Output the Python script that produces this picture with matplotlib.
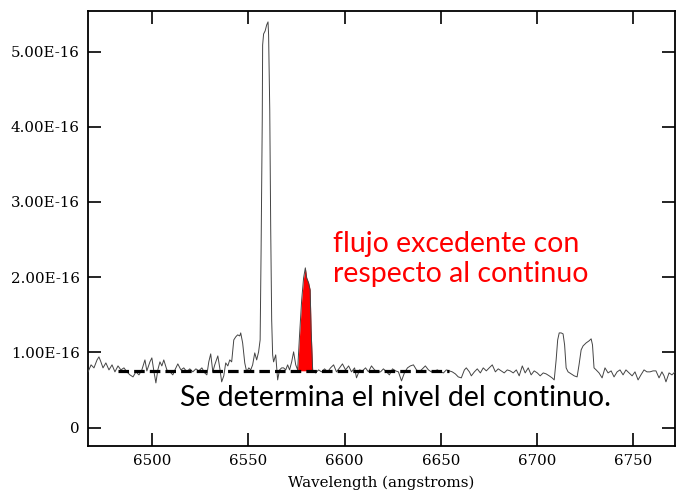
import numpy as np
import matplotlib
matplotlib.use("Agg")
import matplotlib.pyplot as plt
from matplotlib.ticker import FuncFormatter

# spectrum (flux in units of 1e-16)
wave = [6466.6, 6468.2, 6469.7, 6471.3, 6472.3, 6473.3, 6474.4, 6475.9, 6477.5, 6479.1,
        6480.6, 6482.2, 6483.7, 6485.3, 6486.8, 6488.4, 6490.0, 6491.5, 6493.1, 6494.6,
        6496.2, 6497.2, 6498.8, 6499.8, 6500.9, 6501.9, 6502.9, 6504.0, 6505.0, 6506.0,
        6507.6, 6509.2, 6510.7, 6511.8, 6513.3, 6514.9, 6516.4, 6518.0, 6519.5, 6521.1,
        6522.7, 6524.2, 6525.8, 6527.3, 6528.4, 6529.4, 6530.4, 6531.5, 6532.5, 6534.1,
        6535.1, 6536.1, 6537.2, 6538.2, 6539.3, 6540.3, 6541.3, 6542.4, 6543.4, 6544.4,
        6545.5, 6546.0, 6547.0, 6548.1, 6549.1, 6550.2, 6551.2, 6552.2, 6553.3, 6554.3,
        6555.3, 6556.1, 6556.6, 6557.2, 6557.4, 6557.9, 6558.7, 6559.5, 6560.2, 6560.5,
        6561.1, 6561.6, 6562.1, 6562.6, 6563.1, 6564.2, 6565.2, 6566.2, 6567.3, 6568.3,
        6569.4, 6570.4, 6571.4, 6572.5, 6573.5, 6574.6, 6575.6, 6576.6, 6577.7, 6578.7,
        6579.6, 6580.3, 6581.3, 6582.1, 6582.6, 6583.4, 6584.9, 6586.5, 6588.0, 6589.6,
        6591.2, 6592.7, 6594.3, 6595.8, 6597.4, 6598.9, 6600.5, 6602.1, 6603.6, 6605.2,
        6606.2, 6607.8, 6609.3, 6610.9, 6612.4, 6614.0, 6615.6, 6617.1, 6618.7, 6620.2,
        6621.8, 6623.3, 6624.9, 6626.5, 6628.0, 6629.6, 6631.1, 6632.7, 6634.2, 6635.8,
        6637.4, 6638.9, 6640.5, 6642.0, 6643.6, 6645.1, 6646.7, 6648.3, 6649.8, 6651.4,
        6652.9, 6654.5, 6656.0, 6657.6, 6659.1, 6660.7, 6662.3, 6663.3, 6664.9, 6665.9,
        6667.5, 6669.0, 6670.6, 6672.1, 6673.7, 6675.2, 6676.8, 6678.4, 6679.9, 6681.5,
        6683.0, 6684.6, 6686.1, 6687.7, 6689.3, 6690.8, 6692.4, 6693.9, 6695.5, 6697.0,
        6698.6, 6700.2, 6701.7, 6703.3, 6704.8, 6706.4, 6707.9, 6709.0, 6710.0, 6710.8,
        6711.6, 6712.6, 6713.6, 6714.4, 6715.2, 6716.2, 6717.8, 6719.4, 6720.9, 6721.9,
        6723.0, 6724.0, 6725.6, 6727.1, 6728.2, 6728.9, 6729.7, 6730.8, 6732.3, 6733.9,
        6735.4, 6737.0, 6738.6, 6740.1, 6741.7, 6743.2, 6744.8, 6746.3, 6747.9, 6749.5,
        6751.0, 6752.6, 6754.1, 6755.7, 6757.2, 6758.8, 6760.4, 6761.9, 6763.5, 6765.0,
        6766.1, 6767.1, 6768.7, 6770.2, 6771.8]

flux = [0.741, 0.834, 0.794, 0.900, 0.940, 0.874, 0.794, 0.860, 0.767, 0.834,
        0.741, 0.820, 0.767, 0.794, 0.741, 0.701, 0.674, 0.741, 0.701, 0.767,
        0.900, 0.754, 0.874, 0.927, 0.741, 0.594, 0.767, 0.874, 0.820, 0.900,
        0.767, 0.741, 0.701, 0.767, 0.847, 0.767, 0.794, 0.741, 0.781, 0.741,
        0.781, 0.754, 0.794, 0.727, 0.701, 0.874, 0.980, 0.741, 0.834, 0.953,
        0.794, 0.608, 0.688, 0.860, 0.820, 0.900, 0.874, 1.166, 1.206, 1.233,
        1.219, 1.259, 1.126, 0.860, 0.741, 0.794, 0.767, 0.834, 0.993, 0.900,
        1.007, 1.166, 2.363, 4.092, 5.089, 5.235, 5.275, 5.355, 5.395, 5.222,
        4.225, 2.629, 1.432, 0.967, 0.874, 0.967, 0.634, 0.767, 0.794, 0.794,
        0.767, 0.834, 0.767, 0.874, 1.007, 0.834, 0.767, 1.233, 1.698, 1.991,
        2.124, 1.991, 1.924, 1.831, 1.299, 0.767, 0.727, 0.767, 0.741, 0.781,
        0.741, 0.794, 0.834, 0.741, 0.794, 0.847, 0.767, 0.820, 0.741, 0.794,
        0.661, 0.767, 0.754, 0.794, 0.741, 0.820, 0.767, 0.741, 0.741, 0.781,
        0.741, 0.701, 0.781, 0.754, 0.741, 0.621, 0.727, 0.794, 0.820, 0.834,
        0.767, 0.741, 0.781, 0.820, 0.767, 0.741, 0.754, 0.767, 0.741, 0.727,
        0.767, 0.754, 0.741, 0.714, 0.674, 0.661, 0.767, 0.794, 0.741, 0.688,
        0.741, 0.781, 0.727, 0.794, 0.754, 0.794, 0.834, 0.741, 0.781, 0.754,
        0.727, 0.767, 0.754, 0.727, 0.767, 0.688, 0.820, 0.727, 0.794, 0.701,
        0.754, 0.727, 0.688, 0.727, 0.714, 0.688, 0.661, 0.634, 0.900, 1.166,
        1.259, 1.259, 1.246, 1.100, 0.794, 0.741, 0.714, 0.688, 0.674, 0.834,
        1.033, 1.086, 1.126, 1.153, 1.180, 1.100, 0.794, 0.767, 0.727, 0.661,
        0.794, 0.727, 0.754, 0.674, 0.741, 0.767, 0.701, 0.767, 0.727, 0.688,
        0.741, 0.634, 0.701, 0.767, 0.741, 0.741, 0.754, 0.754, 0.661, 0.741,
        0.688, 0.608, 0.727, 0.701, 0.741]

continuum = 0.755
cont_range = [6482.0, 6654.5]
excess_range = [6575.6, 6583.4]

x_ticks = [6500, 6550, 6600, 6650, 6700, 6750]
y_ticks = [0, 1, 2, 3, 4, 5]

wave = np.array(wave)
flux = np.array(flux)

fig = plt.figure(figsize=(6.76, 4.98), dpi=100)
ax = fig.add_axes([88 / 676, 52 / 498, 587 / 676, 435 / 498])

mask = (wave >= excess_range[0]) & (wave <= excess_range[1])
ax.fill_between(wave, continuum, flux, where=mask, color='#ff0000', linewidth=0, zorder=2)
ax.plot(wave, flux, color='#444444', linewidth=0.7, zorder=3)
ax.plot(cont_range, [continuum, continuum], color='black', linewidth=2.3,
        dashes=(3.3, 1.6), zorder=4)

ax.set_xlim(6466.6, 6771.8)
ax.set_ylim(-0.245, 5.54)
ax.set_xticks(x_ticks)
ax.set_yticks(y_ticks)
ax.yaxis.set_major_formatter(FuncFormatter(lambda v, p: "0" if v == 0 else "%.2fE-16" % v))

serif = 'DejaVu Serif'
ax.tick_params(direction='in', length=9.5, width=1.2, top=True, right=True,
               labelsize=10.8, pad=6)
for lab in ax.get_xticklabels() + ax.get_yticklabels():
    lab.set_family(serif)
for s in ax.spines.values():
    s.set_linewidth(1.3)
ax.set_xlabel('Wavelength (angstroms)', family=serif, fontsize=10.8, labelpad=5)

ax.text(6593.8, 2.24, 'flujo excedente con\nrespecto al continuo', color='#ff0000',
        family='Lato', fontsize=20.5, ha='left', va='center', linespacing=1.2)
ax.text(6514.3, 0.39, 'Se determina el nivel del continuo.', color='black',
        family='Lato', fontsize=20.5, ha='left', va='center')

fig.savefig('out.png', dpi=100)
